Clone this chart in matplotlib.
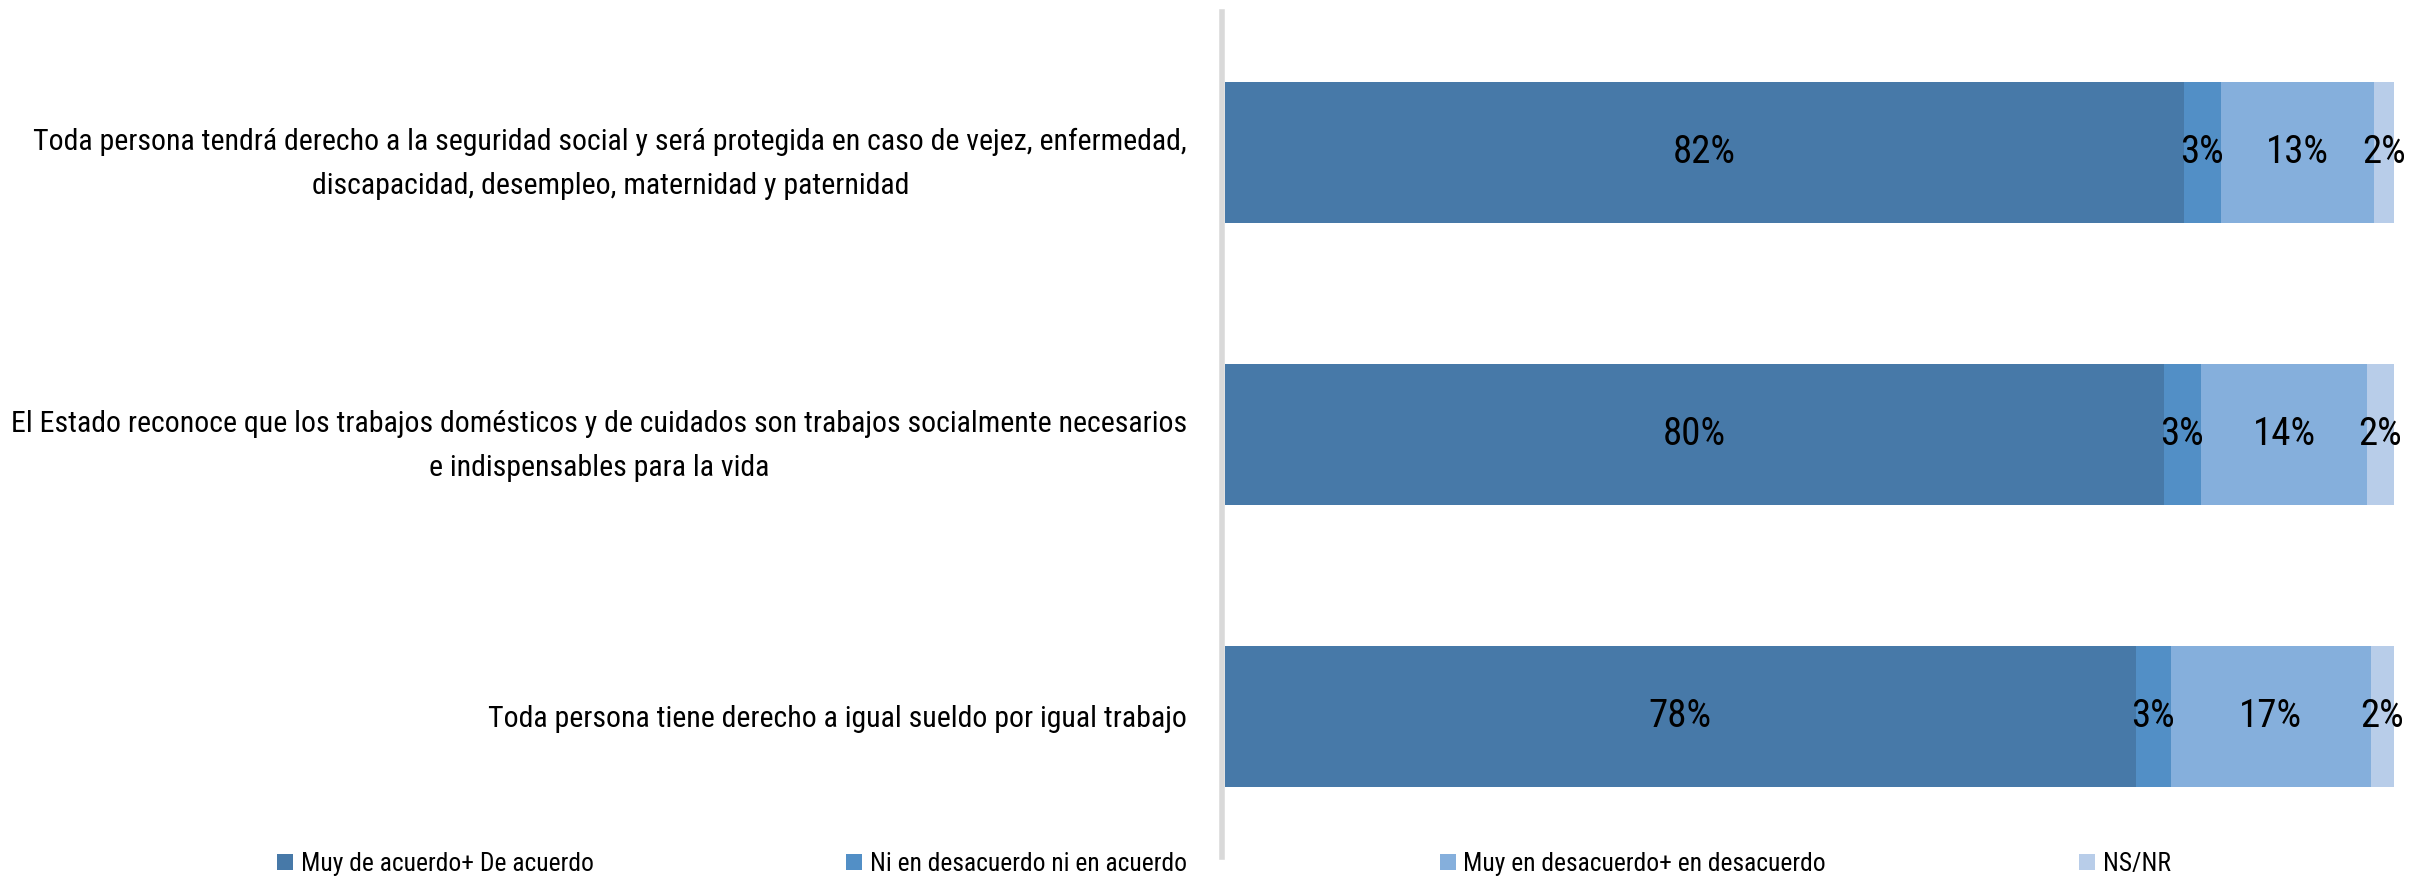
import matplotlib
matplotlib.use("Agg")
import matplotlib.pyplot as plt
from matplotlib import font_manager
from matplotlib.patches import Patch
import numpy as np

categories = [
    "Toda persona tendrá derecho a la seguridad social y será protegida en caso de vejez, enfermedad,\ndiscapacidad, desempleo, maternidad y paternidad",
    "El Estado reconoce que los trabajos domésticos y de cuidados son trabajos socialmente necesarios\ne indispensables para la vida",
    "Toda persona tiene derecho a igual sueldo por igual trabajo",
]
series_names = [
    "Muy de acuerdo+ De acuerdo",
    "Ni en desacuerdo ni en acuerdo",
    "Muy en desacuerdo+ en desacuerdo",
    "NS/NR",
]
muy_de_acuerdo = [82.0, 80.3, 77.9]
ni_ni = [3.2, 3.2, 3.0]
desacuerdo = [13.1, 14.2, 17.1]
ns_nr = [1.8, 2.3, 2.0]
series_values = [muy_de_acuerdo, ni_ni, desacuerdo, ns_nr]
colors = ["#4779A8", "#528FC6", "#85AFDC", "#B8CDE9"]

names = {f.name for f in font_manager.fontManager.ttflist}
stretch = "normal"
family = "DejaVu Sans"
for cand in ["Roboto Condensed", "Liberation Sans Narrow", "Open Sans Condensed"]:
    if cand in names:
        family = cand
        break
else:
    stretch = "condensed"
plt.rcParams["font.family"] = [family, "DejaVu Sans"]
plt.rcParams["font.stretch"] = stretch

W, H = 2412, 877
fig = plt.figure(figsize=(W / 100, H / 100), dpi=100)
ax = fig.add_axes([1225 / W, 20 / H, 1169 / W, 845 / H])

# spines first (set_position resets the ticks)
for s in ["top", "right", "bottom"]:
    ax.spines[s].set_visible(False)
ax.spines["left"].set_color("#D9D9D9")
ax.spines["left"].set_linewidth(4)
ax.spines["left"].set_position(("outward", 2.2))
ax.spines["left"].set_zorder(3)

y = np.arange(len(categories))
left = np.zeros(len(categories))
for vals, col in zip(series_values, colors):
    vals = np.array(vals)
    bars = ax.barh(y, vals, left=left, height=0.5, color=col, zorder=2)
    ax.bar_label(bars, labels=[f"{v:.0f}%" for v in vals], label_type="center",
                 fontsize=28, color="black")
    left = left + vals

ax.set_xlim(0, 100)
ax.set_ylim(2.5, -0.5)
ax.set_xticks([])
ax.tick_params(axis="y", length=0, pad=25, labelsize=21.5)
ax.set_yticks(y)
ax.set_yticklabels(categories, fontsize=21.5, multialignment="center",
                   linespacing=1.75)

handles = [Patch(facecolor=c, edgecolor="none") for c in colors]
fig.legend(handles, series_names, loc="center left",
           bbox_to_anchor=(277 / W, 1 - 864 / H), ncol=4, frameon=False,
           fontsize=18.4, borderpad=0, borderaxespad=0,
           handlelength=0.62, handleheight=0.62, handletextpad=0.3,
           columnspacing=9.9)

fig.savefig("out.png", dpi=100)
